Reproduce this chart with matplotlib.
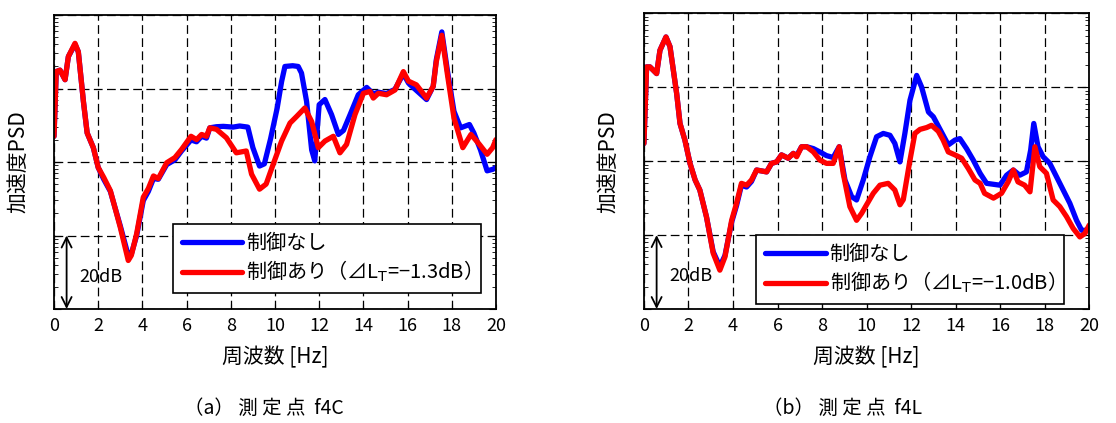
import numpy as np
import matplotlib
matplotlib.use('Agg')
import matplotlib.pyplot as plt

plt.rcParams['font.family'] = ['Noto Sans CJK JP', 'DejaVu Sans']
plt.rcParams['axes.unicode_minus'] = False

# (a) f4C
freq_a_off = [0, 0.1, 0.27, 0.5, 0.65, 0.95, 1.1, 1.33, 1.5, 1.78, 2.0, 2.25, 2.55, 3.0, 3.36, 3.5, 3.74,
              4.04, 4.27, 4.5, 4.72, 5.1, 5.47, 5.77, 6.2, 6.45, 6.68, 6.9, 7.05, 7.35, 7.66, 8.1, 8.4,
              8.77, 9.0, 9.3, 9.52, 9.8, 10.1, 10.3, 10.45, 10.8, 11.05, 11.2, 11.43, 11.66, 11.8, 12.0,
              12.26, 12.56, 12.87, 13.1, 13.4, 13.77, 14.15, 14.3, 14.45, 14.68, 15.05, 15.43, 15.81,
              16.04, 16.25, 16.86, 17.16, 17.3, 17.55, 17.8, 18.1, 18.4, 18.8, 19.0, 19.3, 19.6, 19.85, 20.0]
db_a_off = [47.0, 64.6, 65.0, 62.4, 68.7, 72.0, 70.0, 56.5, 47.9, 43.9, 38.5, 35.3, 32.0, 22.6, 14.5, 15.0,
            20.0, 29.5, 32.0, 35.5, 35.3, 39.3, 40.6, 43.0, 46.0, 45.5, 47.0, 46.5, 49.3, 49.6, 49.7, 49.5,
            49.8, 49.5, 43.9, 38.9, 39.5, 46.3, 54.7, 61.9, 66.0, 66.2, 66.0, 64.2, 56.5, 43.3, 40.3, 55.6,
            57.0, 52.9, 47.5, 48.6, 52.9, 58.3, 60.3, 59.4, 58.5, 59.0, 58.6, 59.8, 64.0, 61.5, 60.3, 57.0,
            60.6, 67.8, 75.4, 65.0, 53.8, 49.3, 50.2, 47.9, 43.3, 37.6, 38.0, 38.5]
freq_a_on = [0, 0.1, 0.27, 0.5, 0.65, 0.95, 1.1, 1.33, 1.5, 1.78, 2.0, 2.25, 2.55, 3.0, 3.36, 3.5, 3.74,
             4.04, 4.27, 4.5, 4.72, 5.1, 5.47, 5.77, 6.2, 6.45, 6.68, 6.9, 7.05, 7.35, 7.8, 8.25, 8.7,
             8.94, 9.3, 9.6, 9.92, 10.3, 10.68, 10.98, 11.35, 11.66, 11.96, 12.26, 12.64, 12.94, 13.24,
             13.62, 14.0, 14.3, 14.45, 14.68, 15.05, 15.43, 15.81, 16.04, 16.4, 16.86, 17.16, 17.3, 17.55,
             17.8, 18.1, 18.5, 18.87, 19.25, 19.6, 19.85, 20.0]
db_a_on = [47.0, 64.6, 65.0, 62.4, 68.7, 72.3, 70.0, 56.5, 47.9, 43.9, 38.5, 35.8, 32.2, 22.2, 13.2, 14.6,
           20.5, 30.4, 32.8, 36.2, 35.5, 39.8, 41.2, 43.4, 47.0, 46.1, 47.5, 47.0, 49.3, 48.9, 46.6, 42.5,
           43.0, 36.7, 32.6, 34.0, 39.4, 45.7, 50.6, 52.4, 54.7, 51.0, 43.9, 45.7, 47.0, 42.5, 44.8, 52.9,
           58.7, 59.2, 57.4, 58.7, 58.3, 59.6, 64.6, 62.0, 61.0, 57.4, 60.6, 67.3, 74.5, 64.0, 52.0, 43.9,
           47.5, 44.8, 42.1, 43.9, 46.1]

# (b) f4L
freq_b_off = [0, 0.12, 0.27, 0.57, 0.72, 0.99, 1.17, 1.47, 1.62, 1.84, 2.07, 2.3, 2.51, 2.81, 3.11, 3.41,
              3.64, 3.94, 4.16, 4.38, 4.61, 4.83, 5.06, 5.51, 5.73, 5.96, 6.18, 6.48, 6.71, 6.86, 7.08,
              7.31, 7.61, 7.9, 8.2, 8.5, 8.77, 9.03, 9.33, 9.55, 9.85, 10.15, 10.45, 10.75, 11.05, 11.27,
              11.5, 11.72, 11.95, 12.25, 12.47, 12.78, 13.0, 13.3, 13.67, 13.97, 14.19, 14.49, 14.79,
              15.1, 15.39, 15.99, 16.29, 16.59, 16.88, 17.18, 17.37, 17.51, 17.7, 17.93, 18.23, 18.53,
              18.83, 19.13, 19.43, 19.66, 19.88, 20.0]
db_b_off = [44.8, 65.5, 65.5, 63.7, 70.0, 73.6, 71.0, 58.3, 50.2, 45.7, 39.4, 34.9, 32.2, 24.9, 15.5, 11.5,
            14.5, 23.5, 28.0, 33.5, 33.0, 34.5, 37.6, 37.1, 39.4, 39.8, 41.7, 40.8, 42.1, 41.5, 43.9, 43.9,
            43.4, 42.5, 41.5, 41.0, 43.9, 34.9, 30.4, 29.5, 34.9, 41.2, 46.6, 47.5, 47.0, 44.8, 39.8, 47.5,
            56.5, 63.2, 60.1, 53.3, 52.0, 48.6, 44.4, 45.7, 46.1, 43.4, 40.3, 36.7, 34.0, 33.5, 36.2, 37.6,
            36.2, 37.1, 43.0, 50.2, 43.9, 41.2, 39.4, 35.8, 32.2, 28.6, 24.0, 21.3, 21.3, 22.2]
freq_b_on = [0, 0.12, 0.27, 0.57, 0.72, 0.99, 1.17, 1.47, 1.62, 1.84, 2.07, 2.3, 2.51, 2.81, 3.11, 3.41,
             3.64, 3.94, 4.16, 4.38, 4.61, 4.83, 5.06, 5.51, 5.73, 5.96, 6.18, 6.48, 6.71, 6.86, 7.08,
             7.31, 7.61, 7.9, 8.2, 8.5, 8.77, 8.95, 9.25, 9.55, 9.78, 10.0, 10.3, 10.6, 10.97, 11.27, 11.5,
             11.65, 11.95, 12.17, 12.4, 12.7, 12.92, 13.22, 13.44, 13.67, 13.97, 14.27, 14.57, 14.87,
             15.1, 15.3, 15.7, 16.06, 16.36, 16.59, 16.8, 17.1, 17.34, 17.56, 17.78, 18.08, 18.38,
             18.68, 18.98, 19.28, 19.58, 19.8, 20.0]
db_b_on = [44.8, 65.5, 65.5, 63.7, 70.0, 73.6, 71.0, 58.3, 50.2, 45.7, 39.4, 34.9, 32.2, 24.9, 15.1, 10.5,
           14.1, 24.0, 28.6, 34.0, 33.5, 34.9, 37.6, 37.1, 39.4, 39.8, 41.7, 40.8, 42.1, 41.2, 43.9, 43.9,
           42.5, 40.3, 39.4, 39.4, 43.9, 36.7, 27.7, 24.0, 25.9, 28.2, 31.3, 33.5, 34.0, 32.2, 28.2, 29.6,
           40.3, 47.5, 48.6, 49.1, 49.7, 48.1, 45.7, 42.5, 41.7, 40.8, 38.0, 34.9, 34.0, 31.3, 30.0, 31.3,
           34.4, 37.6, 34.4, 33.5, 31.7, 43.9, 38.5, 36.7, 29.5, 27.7, 25.0, 21.8, 19.5, 20.4, 22.7]

label_off = '制御なし'
label_on_a = '制御あり（⊿L$_\\mathrm{T}$=−1.3dB）'
label_on_b = '制御あり（⊿L$_\\mathrm{T}$=−1.0dB）'
captions = ['（a） 測 定 点  f4C', '（b） 測 定 点  f4L']
xticks = np.arange(0, 21, 2)


def draw_panel(ax, f_off, d_off, f_on, d_on, label_on, leg_xy):
    # dB -> amplitude ratio so that a log axis gives 20 dB per decade
    ax.plot(f_off, 10 ** (np.array(d_off) / 20), color='#0000ff', lw=3.8,
            solid_joinstyle='round', solid_capstyle='round', label=label_off)
    ax.plot(f_on, 10 ** (np.array(d_on) / 20), color='#ff0000', lw=3.8,
            solid_joinstyle='round', solid_capstyle='round', label=label_on)
    ax.set_yscale('log')
    ax.set_xlim(0, 20)
    ax.set_ylim(1, 1e4)
    ax.set_xticks(xticks)
    ax.grid(True, which='major', color='k', lw=0.9, linestyle=(0, (7, 3.5)))
    ax.tick_params(axis='both', which='both', direction='in', top=False, right=True,
                   labelleft=False, labelsize=13, pad=6)
    ax.tick_params(axis='y', which='minor', length=3)
    ax.tick_params(axis='y', which='major', length=5)
    for sp in ax.spines.values():
        sp.set_linewidth(1.3)

    ax.set_ylabel('加速度PSD', fontsize=15)
    ax.yaxis.set_label_coords(-0.055, 0.5)
    ax.set_xlabel('周波数 [Hz]', fontsize=15)
    ax.xaxis.set_label_coords(0.5, -0.125)

    # 20dB scale arrow (one decade)
    ax.annotate('', xy=(0.57, 1.0), xytext=(0.57, 10.0),
                arrowprops=dict(arrowstyle='<->', lw=1.3, color='k', mutation_scale=18,
                                shrinkA=0, shrinkB=0))
    ax.text(1.15, 10 ** (8.8 / 20), '20dB', fontsize=13, va='center', ha='left')

    leg = ax.legend(loc='lower left', bbox_to_anchor=leg_xy, borderaxespad=0,
                    fontsize=14.5, handlelength=3.0, handletextpad=0.2,
                    labelspacing=0.25, borderpad=0.45, fancybox=False,
                    framealpha=1, edgecolor='k')
    leg.get_frame().set_linewidth(1.2)


fig = plt.figure(figsize=(11.16, 4.23), dpi=100)
ax1 = fig.add_axes([0.0484, 0.2695, 0.396, 0.695])
ax2 = fig.add_axes([0.577, 0.2695, 0.399, 0.699])

draw_panel(ax1, freq_a_off, db_a_off, freq_a_on, db_a_on, label_on_a, (0.269, 0.054))
draw_panel(ax2, freq_b_off, db_b_off, freq_b_on, db_b_on, label_on_b, (0.252, 0.017))

fig.text(264 / 1116, 1 - 408 / 423, captions[0], fontsize=14, ha='center', va='center')
fig.text(843 / 1116, 1 - 408 / 423, captions[1], fontsize=14, ha='center', va='center')

plt.savefig('out.png', dpi=100)
